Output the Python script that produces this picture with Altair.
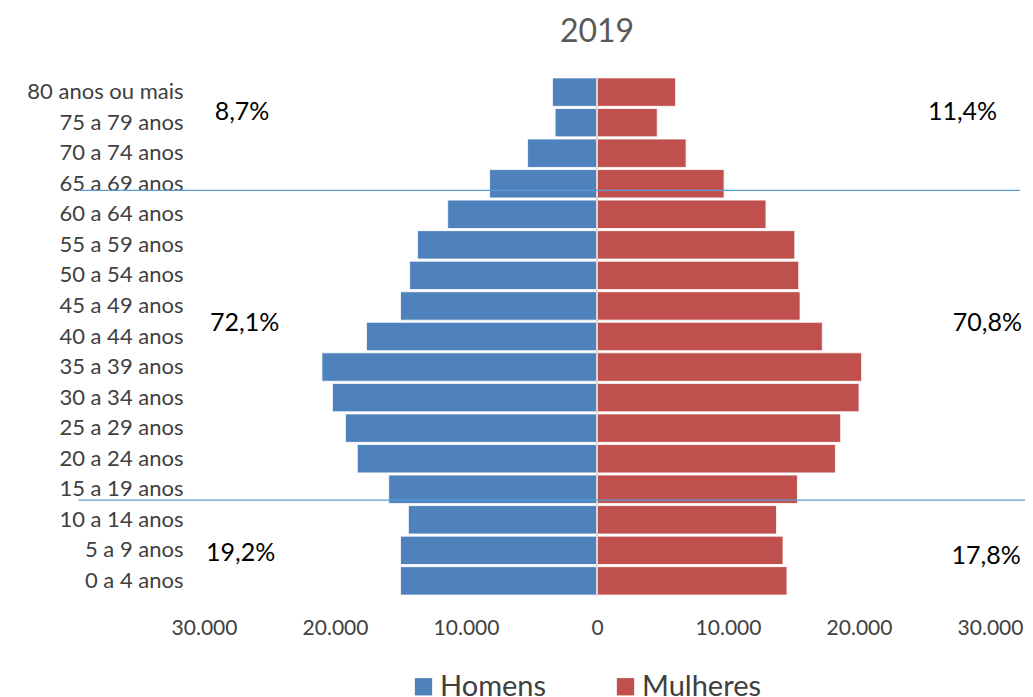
import altair as alt
import pandas as pd

ages = ["80 anos ou mais", "75 a 79 anos", "70 a 74 anos", "65 a 69 anos",
        "60 a 64 anos", "55 a 59 anos", "50 a 54 anos", "45 a 49 anos",
        "40 a 44 anos", "35 a 39 anos", "30 a 34 anos", "25 a 29 anos",
        "20 a 24 anos", "15 a 19 anos", "10 a 14 anos", "5 a 9 anos", "0 a 4 anos"]
homens = [3400, 3200, 5300, 8200, 11400, 13700, 14300, 15000, 17600,
          21000, 20200, 19200, 18300, 15900, 14400, 15000, 15000]
mulheres = [6000, 4600, 6800, 9700, 12900, 15100, 15400, 15500, 17200,
            20200, 20000, 18600, 18200, 15300, 13700, 14200, 14500]

sexes = ["Homens", "Mulheres"]
colors = ["#4F81BD", "#C0504D"]

pct_labels = ["8,7%", "11,4%", "72,1%", "70,8%", "19,2%", "17,8%"]
pct_x = [-27100, 27900, -26900, 29800, -27200, 29700]
pct_age = ["75 a 79 anos", "75 a 79 anos", "40 a 44 anos", "40 a 44 anos",
           "5 a 9 anos", "5 a 9 anos"]
pct_band = [0.14, 0.14, 0.01, 0.01, 0.58, 0.71]

sep_age = ["65 a 69 anos", "15 a 19 anos"]
sep_band = [0.73, 0.88]
sep_x1 = [-39600, -39600]
sep_x2 = [32300, 32700]

FONT = "Lato"

rows = []
for a, h, m in zip(ages, homens, mulheres):
    rows.append({"age": a, "sex": "Homens", "value": -h})
    rows.append({"age": a, "sex": "Mulheres", "value": m})
df = pd.DataFrame(rows)

yscale = alt.Scale(domain=ages, paddingInner=0.07, paddingOuter=0.03)
xscale = alt.Scale(domain=[-30000, 30000], nice=False)

bars = alt.Chart(df).mark_bar(stroke="white", strokeWidth=0.8).encode(
    x=alt.X("value:Q", scale=xscale,
            axis=alt.Axis(values=[-30000, -20000, -10000, 0, 10000, 20000, 30000],
                          labelExpr="replace(format(abs(datum.value), ','), ',', '.')",
                          title=None, grid=False, domain=False, ticks=False,
                          labelFlush=False, labelOverlap=False,
                          labelFontSize=21, labelColor="#404040", labelFont=FONT,
                          labelPadding=21)),
    y=alt.Y("age:N", sort=ages, scale=yscale,
            axis=alt.Axis(title=None, domain=False, ticks=False, labelFontSize=22,
                          labelColor="#404040", labelFont=FONT, labelPadding=21)),
    color=alt.Color("sex:N", scale=alt.Scale(domain=sexes, range=colors),
                    legend=alt.Legend(title=None, orient="none", legendX=205, legendY=595,
                                      direction="horizontal", symbolType="square",
                                      symbolSize=300, symbolStrokeWidth=0,
                                      labelFontSize=29, labelFont=FONT,
                                      labelColor="#404040", columnPadding=64,
                                      labelOffset=2))
)

zero = alt.Chart(pd.DataFrame({"v": [0]})).mark_rule(color="#d9d9d9", strokeWidth=2).encode(
    x=alt.X("v:Q", scale=xscale)
)

sep_df = pd.DataFrame({"age": sep_age, "x1": sep_x1, "x2": sep_x2})
seps = []
for i, b in enumerate(sep_band):
    seps.append(
        alt.Chart(sep_df.iloc[[i]]).mark_rule(color="#5B9BD5", strokeWidth=1.3).encode(
            x=alt.X("x1:Q", scale=xscale), x2="x2:Q",
            y=alt.Y("age:N", sort=ages, scale=yscale, bandPosition=b)
        )
    )

pct_df = pd.DataFrame({"label": pct_labels, "x": pct_x, "age": pct_age})
texts = []
for i, b in enumerate(pct_band):
    texts.append(
        alt.Chart(pct_df.iloc[[i]]).mark_text(fontSize=25, font=FONT, color="#000000",
                                              baseline="middle", align="center").encode(
            x=alt.X("x:Q", scale=xscale),
            y=alt.Y("age:N", sort=ages, scale=yscale, bandPosition=b),
            text="label:N"
        )
    )

chart = alt.layer(bars, zero, *seps, *texts).properties(
    width=786, height=519,
    title=alt.TitleParams("2019", fontSize=32, font=FONT, color="#595959",
                          fontWeight="normal", offset=27, anchor="middle"),
    autosize=alt.AutoSizeParams(type="none"),
    padding={"left": 196, "top": 69, "right": 35, "bottom": 101},
).configure_view(stroke=None)

chart.save("out.html", embed_options={"renderer": "svg", "actions": False})
